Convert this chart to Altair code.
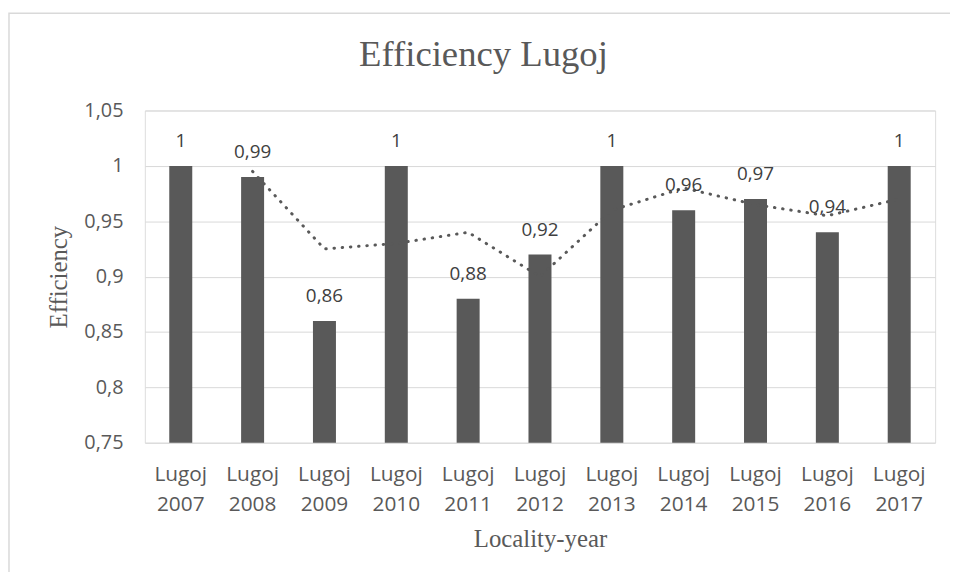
import altair as alt
import pandas as pd

categories = ["Lugoj 2007", "Lugoj 2008", "Lugoj 2009", "Lugoj 2010", "Lugoj 2011",
              "Lugoj 2012", "Lugoj 2013", "Lugoj 2014", "Lugoj 2015", "Lugoj 2016", "Lugoj 2017"]
efficiency = [1.00, 0.99, 0.86, 1.00, 0.88, 0.92, 1.00, 0.96, 0.97, 0.94, 1.00]
# dotted trend line (2-period moving average)
trend_categories = categories[1:]
trend_values = [0.995, 0.925, 0.93, 0.94, 0.90, 0.96, 0.98, 0.965, 0.955, 0.97]
y_ticks = [0.75, 0.8, 0.85, 0.9, 0.95, 1.0, 1.05]
y_min, y_max = 0.75, 1.05

bars_df = pd.DataFrame({"cat": categories, "value": efficiency})
trend_df = pd.DataFrame({"cat": trend_categories, "value": trend_values})

GRAY = "#595959"
x_enc = alt.X(
    "cat:N",
    sort=categories,
    scale=alt.Scale(paddingInner=0.68, paddingOuter=0.34),
    axis=alt.Axis(
        title="Locality-year",
        titleFont="Liberation Serif",
        titleFontSize=25,
        titleFontWeight="normal",
        titleColor=GRAY,
        titleBaseline="alphabetic",
        titleX=398.5,
        titleY=105,
        labelExpr="split(datum.label, ' ')",
        labelFont="Open Sans",
        labelFontSize=21,
        labelColor=GRAY,
        labelAngle=0,
        labelBaseline="top",
        labelPadding=21,
        labelLineHeight=30,
        domain=False,
        ticks=False,
        grid=False,
    ),
)
y_enc = alt.Y(
    "value:Q",
    scale=alt.Scale(domain=[y_min, y_max], zero=False, nice=False),
    axis=alt.Axis(
        values=y_ticks,
        title="Efficiency",
        titleFont="Liberation Serif",
        titleFontSize=25,
        titleFontWeight="normal",
        titleColor=GRAY,
        titleAngle=270,
        titleBaseline="alphabetic",
        titleAlign="center",
        titleX=-79,
        titleY=167.5,
        labelExpr="replace(format(datum.value, '.2~f'), '.', ',')",
        labelFont="Open Sans",
        labelFontSize=20,
        labelColor=GRAY,
        labelPadding=22,
        domain=False,
        ticks=False,
        grid=True,
        gridColor="#d9d9d9",
        gridWidth=1,
    ),
)

frame = alt.Chart(pd.DataFrame({"a": [0]})).mark_rect(
    fillOpacity=0, stroke="#d9d9d9", strokeWidth=1.5
).encode(
    x=alt.value(-137), x2=alt.value(1200), y=alt.value(-98), y2=alt.value(900)
)

bars = alt.Chart(bars_df).mark_bar(color=GRAY).encode(
    x=x_enc, y=y_enc, y2=alt.datum(y_min)
)

labels = alt.Chart(bars_df).transform_calculate(
    lbl="replace(format(datum.value, '.2~f'), '.', ',')"
).mark_text(
    font="Open Sans", fontSize=19, color="#404040", baseline="alphabetic", dy=-19
).encode(x=alt.X("cat:N", sort=categories), y="value:Q", text="lbl:N")

trend = alt.Chart(trend_df).mark_line(
    color=GRAY, strokeWidth=3, strokeDash=[0.5, 7.8], strokeCap="round"
).encode(x=alt.X("cat:N", sort=categories), y="value:Q")

chart = alt.layer(frame, bars, trend, labels).properties(
    width=797,
    height=335,
    autosize=alt.AutoSizeParams(type="none"),
    padding={"left": 138, "top": 101, "right": 15, "bottom": 128},
    title=alt.TitleParams(
        text="Efficiency Lugoj",
        font="Liberation Serif",
        fontSize=37,
        fontWeight="normal",
        color=GRAY,
        anchor="middle",
        frame="group",
        baseline="alphabetic",
        offset=-90.75,
        dx=-57,
    ),
).configure_view(stroke=None).configure(background="white")

chart.save("out.html", embed_options={"renderer": "svg", "actions": False})
